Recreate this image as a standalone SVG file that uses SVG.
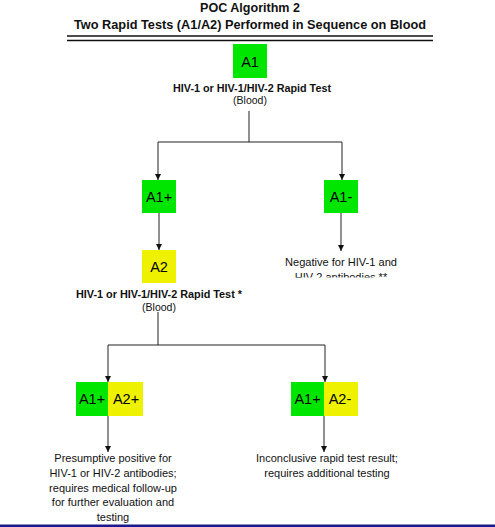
<svg xmlns="http://www.w3.org/2000/svg" width="495" height="527" viewBox="0 0 495 527">
<style>
text{font-family:"Liberation Sans",Arial,sans-serif;fill:#111;text-anchor:middle}
.t{font-size:13px;font-weight:bold}
.b{font-size:14.5px;fill:#000}
.l{font-size:11px}
.s{font-size:10.5px}
.lb{font-size:10px;font-weight:bold}
.g{fill:#00e600}
.y{fill:#eef200}
.c{stroke:#222;stroke-width:1;fill:none}
</style>
<defs>
<marker id="ah" viewBox="0 0 6 6" refX="6" refY="3" markerWidth="6" markerHeight="6" markerUnits="userSpaceOnUse" orient="auto"><path d="M0,0 L6,3 L0,6 z" fill="#111"/></marker>
<clipPath id="clipneg"><rect x="250" y="250" width="200" height="27.5"/></clipPath>
</defs>
<rect width="495" height="527" fill="#fff"/>
<g id="title">
<text class="t" x="250" y="12" textLength="100" lengthAdjust="spacingAndGlyphs">POC Algorithm 2</text>
<text class="t" x="250" y="29" textLength="352" lengthAdjust="spacingAndGlyphs">Two Rapid Tests (A1/A2) Performed in Sequence on Blood</text>
<line x1="67" y1="36" x2="433" y2="36" stroke="#111" stroke-width="1.3"/>
<line x1="67" y1="40.5" x2="433" y2="40.5" stroke="#111" stroke-width="1.3"/>
</g>
<g id="connectors">
<line class="c" x1="249" y1="111" x2="249" y2="142"/>
<line class="c" x1="158" y1="142" x2="342" y2="142"/>
<line class="c" x1="158" y1="142" x2="158" y2="180" marker-end="url(#ah)"/>
<line class="c" x1="342" y1="142" x2="342" y2="180" marker-end="url(#ah)"/>
<line class="c" x1="159" y1="213" x2="159" y2="250" marker-end="url(#ah)"/>
<line class="c" x1="341" y1="213" x2="341" y2="251" marker-end="url(#ah)"/>
<line class="c" x1="158" y1="312" x2="158" y2="345"/>
<line class="c" x1="108" y1="345" x2="325" y2="345"/>
<line class="c" x1="108" y1="345" x2="108" y2="382" marker-end="url(#ah)"/>
<line class="c" x1="325" y1="345" x2="325" y2="382" marker-end="url(#ah)"/>
<line class="c" x1="108" y1="416" x2="108" y2="452" marker-end="url(#ah)"/>
<line class="c" x1="324" y1="416" x2="324" y2="452" marker-end="url(#ah)"/>
</g>
<g id="a1">
<rect class="g" x="233" y="44" width="34" height="34"/>
<text class="b" x="250" y="67">A1</text>
<text class="lb" x="252" y="92" textLength="158" lengthAdjust="spacingAndGlyphs">HIV-1 or HIV-1/HIV-2 Rapid Test</text>
<text class="s" x="250" y="104">(Blood)</text>
</g>
<g id="a1pos">
<rect class="g" x="142" y="180" width="34" height="33"/>
<text class="b" x="159" y="202">A1+</text>
</g>
<g id="a1neg">
<rect class="g" x="324" y="180" width="34" height="33"/>
<text class="b" x="341" y="202">A1-</text>
</g>
<g id="negative">
<g clip-path="url(#clipneg)">
<text class="l" x="341" y="266" textLength="112" lengthAdjust="spacingAndGlyphs">Negative for HIV-1 and</text>
<text class="l" x="341" y="281">HIV-2 antibodies **</text>
</g>
</g>
<g id="a2">
<rect class="y" x="142" y="250" width="34" height="33"/>
<text class="b" x="159" y="272">A2</text>
<text class="lb" x="159" y="298" textLength="166" lengthAdjust="spacingAndGlyphs">HIV-1 or HIV-1/HIV-2 Rapid Test *</text>
<text class="s" x="159" y="311">(Blood)</text>
</g>
<g id="pospos">
<rect class="g" x="76" y="382" width="32" height="34"/>
<rect class="y" x="108" y="382" width="35" height="34"/>
<text class="b" x="92" y="404">A1+</text>
<text class="b" x="126" y="404">A2+</text>
</g>
<g id="posneg">
<rect class="g" x="291" y="382" width="33" height="34"/>
<rect class="y" x="324" y="382" width="34" height="34"/>
<text class="b" x="307.5" y="404">A1+</text>
<text class="b" x="340" y="404">A2-</text>
</g>
<g id="presumptive">
<text class="l" x="113" y="462">Presumptive positive for</text>
<text class="l" x="113" y="477">HIV-1 or HIV-2 antibodies;</text>
<text class="l" x="113" y="492">requires medical follow-up</text>
<text class="l" x="113" y="506">for further evaluation and</text>
<text class="l" x="113" y="521">testing</text>
</g>
<g id="inconclusive">
<text class="l" x="327" y="462">Inconclusive rapid test result;</text>
<text class="l" x="327" y="477">requires additional testing</text>
</g>
<rect x="0" y="524.5" width="495" height="2.5" fill="#1a1a8c"/>
</svg>
